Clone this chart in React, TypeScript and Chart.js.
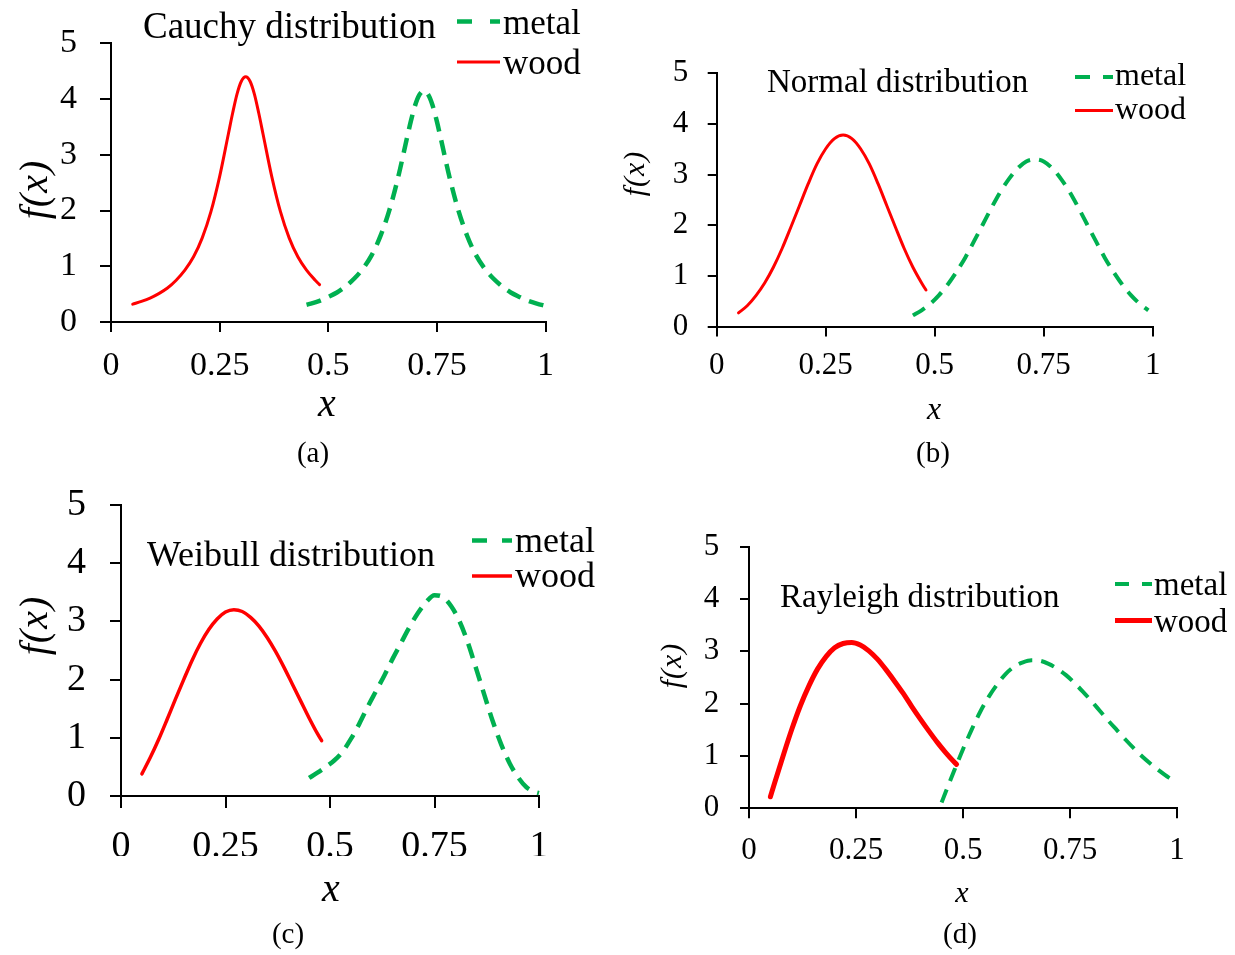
import React, { useEffect, useRef } from 'react';
import { Chart, registerables } from 'chart.js';

Chart.register(...registerables);

// ---------------- data ----------------
const seriesNames = ['metal', 'wood'];
const panelTitles = ['Cauchy distribution', 'Normal distribution', 'Weibull distribution', 'Rayleigh distribution'];
const panelCaptions = ['(a)', '(b)', '(c)', '(d)'];
const xAxisTitle = 'x';
const yAxisTitle = 'f(x)';
const xTickValues = [0, 0.25, 0.5, 0.75, 1];
const xTickLabels = ['0', '0.25', '0.5', '0.75', '1'];
const yTickValues = [0, 1, 2, 3, 4, 5];
const yTickLabels = ['0', '1', '2', '3', '4', '5'];

// (a) Cauchy
const cauchyWoodX = [0.05, 0.07, 0.09, 0.11, 0.13, 0.15, 0.17, 0.19, 0.21, 0.23, 0.25, 0.27, 0.28, 0.29, 0.30, 0.31, 0.32, 0.33, 0.34, 0.35, 0.37, 0.39, 0.41, 0.43, 0.45, 0.47, 0.48];
const cauchyWoodY = [0.32, 0.37, 0.43, 0.51, 0.61, 0.75, 0.93, 1.17, 1.51, 1.98, 2.61, 3.37, 3.75, 4.09, 4.32, 4.40, 4.32, 4.09, 3.75, 3.37, 2.61, 1.98, 1.51, 1.17, 0.93, 0.75, 0.67];
const cauchyMetalX = [0.45, 0.46, 0.48, 0.50, 0.52, 0.54, 0.56, 0.58, 0.60, 0.62, 0.64, 0.66, 0.68, 0.69, 0.70, 0.71, 0.72, 0.73, 0.74, 0.75, 0.76, 0.78, 0.80, 0.82, 0.84, 0.86, 0.88, 0.90, 0.92, 0.94, 0.96, 0.98, 1.00];
const cauchyMetalY = [0.31, 0.33, 0.38, 0.45, 0.53, 0.64, 0.78, 0.96, 1.20, 1.54, 1.99, 2.57, 3.26, 3.60, 3.89, 4.08, 4.15, 4.08, 3.89, 3.60, 3.26, 2.57, 1.99, 1.54, 1.20, 0.96, 0.78, 0.64, 0.53, 0.45, 0.38, 0.33, 0.29];

// (b) Normal
const normalWoodX = [0.05, 0.07, 0.09, 0.11, 0.13, 0.15, 0.17, 0.19, 0.21, 0.23, 0.25, 0.27, 0.29, 0.31, 0.33, 0.35, 0.37, 0.39, 0.41, 0.43, 0.45, 0.47, 0.48];
const normalWoodY = [0.27, 0.41, 0.61, 0.86, 1.17, 1.54, 1.96, 2.39, 2.82, 3.21, 3.51, 3.71, 3.78, 3.71, 3.51, 3.21, 2.82, 2.39, 1.96, 1.54, 1.17, 0.86, 0.72];
const normalMetalX = [0.45, 0.47, 0.49, 0.51, 0.53, 0.55, 0.57, 0.59, 0.61, 0.63, 0.65, 0.67, 0.69, 0.71, 0.73, 0.75, 0.77, 0.79, 0.81, 0.83, 0.85, 0.87, 0.89, 0.91, 0.93, 0.95, 0.97, 0.99];
const normalMetalY = [0.22, 0.32, 0.45, 0.62, 0.83, 1.08, 1.36, 1.68, 2.01, 2.34, 2.65, 2.91, 3.12, 3.26, 3.30, 3.26, 3.12, 2.91, 2.65, 2.34, 2.01, 1.68, 1.36, 1.08, 0.83, 0.62, 0.45, 0.32];

// (c) Weibull
const weibullWoodX = [0.05, 0.07, 0.09, 0.11, 0.13, 0.15, 0.17, 0.19, 0.21, 0.23, 0.25, 0.27, 0.29, 0.31, 0.33, 0.35, 0.37, 0.39, 0.41, 0.43, 0.45, 0.47, 0.48];
const weibullWoodY = [0.38, 0.66, 0.97, 1.31, 1.66, 2.00, 2.33, 2.62, 2.86, 3.04, 3.16, 3.20, 3.17, 3.07, 2.92, 2.72, 2.48, 2.21, 1.92, 1.63, 1.34, 1.07, 0.95];
const weibullMetalX = [0.45, 0.47, 0.49, 0.51, 0.53, 0.55, 0.57, 0.59, 0.61, 0.63, 0.65, 0.67, 0.69, 0.71, 0.73, 0.75, 0.77, 0.79, 0.81, 0.83, 0.85, 0.87, 0.89, 0.91, 0.93, 0.95, 0.97, 0.99, 1.00];
const weibullMetalY = [0.31, 0.40, 0.50, 0.61, 0.76, 0.98, 1.24, 1.53, 1.80, 2.07, 2.36, 2.63, 2.90, 3.14, 3.33, 3.45, 3.42, 3.26, 3.00, 2.63, 2.18, 1.72, 1.27, 0.88, 0.56, 0.32, 0.15, 0.07, 0.05];

// (d) Rayleigh
const rayleighWoodX = [0.05, 0.06, 0.08, 0.10, 0.12, 0.14, 0.16, 0.18, 0.20, 0.22, 0.24, 0.26, 0.28, 0.30, 0.32, 0.34, 0.36, 0.38, 0.40, 0.42, 0.44, 0.46, 0.48, 0.485];
const rayleighWoodY = [0.22, 0.49, 1.01, 1.51, 1.96, 2.34, 2.66, 2.90, 3.07, 3.15, 3.17, 3.12, 3.01, 2.85, 2.65, 2.43, 2.20, 1.95, 1.71, 1.48, 1.26, 1.06, 0.88, 0.84];
const rayleighMetalX = [0.45, 0.46, 0.48, 0.50, 0.52, 0.54, 0.56, 0.58, 0.60, 0.62, 0.64, 0.66, 0.68, 0.70, 0.72, 0.74, 0.76, 0.78, 0.80, 0.82, 0.84, 0.86, 0.88, 0.90, 0.92, 0.94, 0.96, 0.98, 1.00];
const rayleighMetalY = [0.11, 0.32, 0.73, 1.13, 1.50, 1.84, 2.13, 2.37, 2.57, 2.71, 2.79, 2.83, 2.82, 2.76, 2.67, 2.55, 2.40, 2.23, 2.05, 1.86, 1.67, 1.49, 1.31, 1.14, 0.98, 0.84, 0.71, 0.59, 0.49];

// ---------------- styling / layout ----------------
const W = 1235;
const H = 955;
const FONT = '"Liberation Serif", "Times New Roman", serif';
const GREEN = '#00b050';
const RED = '#ff0000';
const Y_AXIS_W = 60;
const X_AXIS_H = 60;

type Layout = {
  area: { left: number; top: number; right: number; bottom: number };
  tickSize: number;
  yTickLen: number;
  xTickLen: number;
  yPad: number;
  xPad: number;
  woodWidth: number;
  metalWidth: number;
  dash: number[];
  title: { x: number; y: number; size: number };
  legend: { x: number; baselines: number[]; len: number; gap: number; size: number; lineOffset: number; dash: number[] };
  yTitle: { x: number; y: number; size: number; spacing: number };
  xTitle: { x: number; y: number; size: number };
  caption: { x: number; y: number; size: number };
};

const layouts: Layout[] = [
  {
    area: { left: 111, top: 37.7, right: 545.5, bottom: 322 },
    tickSize: 34, yTickLen: 11, xTickLen: 10, yPad: 23, xPad: 14,
    woodWidth: 3, metalWidth: 4.5, dash: [15, 9],
    title: { x: 143, y: 37.5, size: 37 },
    legend: { x: 457, baselines: [33.5, 74], len: 43, gap: 3, size: 35, lineOffset: 12, dash: [15, 18] },
    yTitle: { x: 36, y: 190, size: 40, spacing: 1 },
    xTitle: { x: 327, y: 416, size: 40 },
    caption: { x: 313, y: 462, size: 29 },
  },
  {
    area: { left: 716.7, top: 73.3, right: 1152.7, bottom: 326.5 },
    tickSize: 31, yTickLen: 9, xTickLen: 10, yPad: 19.5, xPad: 11,
    woodWidth: 3, metalWidth: 4, dash: [14, 9],
    title: { x: 767, y: 92, size: 33 },
    legend: { x: 1075, baselines: [85, 118.5], len: 38, gap: 2, size: 32, lineOffset: 8, dash: [15, 13] },
    yTitle: { x: 636, y: 174, size: 30, spacing: 1 },
    xTitle: { x: 934, y: 419, size: 32 },
    caption: { x: 933, y: 462, size: 29 },
  },
  {
    area: { left: 121, top: 505, right: 539, bottom: 796 },
    tickSize: 38, yTickLen: 11, xTickLen: 12, yPad: 24, xPad: 16,
    woodWidth: 3.5, metalWidth: 4.5, dash: [15, 9],
    title: { x: 147, y: 566, size: 36 },
    legend: { x: 472, baselines: [551.5, 587], len: 40, gap: 3, size: 36, lineOffset: 11, dash: [15, 15] },
    yTitle: { x: 36, y: 626, size: 40, spacing: 1 },
    xTitle: { x: 331, y: 901, size: 40 },
    caption: { x: 288, y: 943, size: 29 },
  },
  {
    area: { left: 749, top: 546.7, right: 1177, bottom: 808.3 },
    tickSize: 31, yTickLen: 9, xTickLen: 10, yPad: 20.7, xPad: 14,
    woodWidth: 5, metalWidth: 4, dash: [14, 9],
    title: { x: 780, y: 606.5, size: 33 },
    legend: { x: 1115, baselines: [595, 631.5], len: 37, gap: 2, size: 33, lineOffset: 11, dash: [14, 13] },
    yTitle: { x: 673, y: 666, size: 30, spacing: 1 },
    xTitle: { x: 962, y: 902, size: 30 },
    caption: { x: 960, y: 943, size: 29 },
  },
];

const panels = [
  { title: panelTitles[0], caption: panelCaptions[0], metalX: cauchyMetalX, metalY: cauchyMetalY, woodX: cauchyWoodX, woodY: cauchyWoodY },
  { title: panelTitles[1], caption: panelCaptions[1], metalX: normalMetalX, metalY: normalMetalY, woodX: normalWoodX, woodY: normalWoodY },
  { title: panelTitles[2], caption: panelCaptions[2], metalX: weibullMetalX, metalY: weibullMetalY, woodX: weibullWoodX, woodY: weibullWoodY },
  { title: panelTitles[3], caption: panelCaptions[3], metalX: rayleighMetalX, metalY: rayleighMetalY, woodX: rayleighWoodX, woodY: rayleighWoodY },
];

function toPoints(xs: number[], ys: number[]) {
  return xs.map((x, i) => ({ x, y: ys[i] }));
}

function decoPlugin(panel: any, L: Layout) {
  return {
    id: 'deco',
    afterDraw(chart: any) {
      const ctx: any = chart.ctx;
      ctx.save();
      ctx.fillStyle = '#000';
      ctx.textAlign = 'left';
      ctx.textBaseline = 'alphabetic';
      // panel title
      ctx.font = `${L.title.size}px ${FONT}`;
      ctx.fillText(panel.title, L.title.x, L.title.y);
      // legend
      ctx.font = `${L.legend.size}px ${FONT}`;
      chart.data.datasets.forEach((ds: any, i: number) => {
        const by = L.legend.baselines[i];
        const ly = by - L.legend.lineOffset;
        ctx.save();
        ctx.strokeStyle = ds.borderColor;
        ctx.lineWidth = ds.borderWidth;
        ctx.lineCap = 'butt';
        ctx.setLineDash(ds.borderDash && ds.borderDash.length ? L.legend.dash : []);
        ctx.beginPath();
        ctx.moveTo(L.legend.x, ly);
        ctx.lineTo(L.legend.x + L.legend.len, ly);
        ctx.stroke();
        ctx.restore();
        ctx.fillText(ds.label, L.legend.x + L.legend.len + L.legend.gap, by);
      });
      // x axis title
      ctx.textAlign = 'center';
      ctx.font = `italic ${L.xTitle.size}px ${FONT}`;
      ctx.fillText(xAxisTitle, L.xTitle.x, L.xTitle.y);
      // y axis title (rotated)
      ctx.save();
      ctx.translate(L.yTitle.x, L.yTitle.y);
      ctx.rotate(-Math.PI / 2);
      ctx.font = `italic ${L.yTitle.size}px ${FONT}`;
      ctx.textBaseline = 'middle';
      ctx.textAlign = 'left';
      const chars = yAxisTitle.split('');
      const widths = chars.map((c: string) => ctx.measureText(c).width);
      const total = widths.reduce((a: number, b: number) => a + b, 0) + L.yTitle.spacing * (chars.length - 1);
      let cx = -total / 2;
      chars.forEach((c: string, k: number) => {
        ctx.fillText(c, cx, 0);
        cx += widths[k] + L.yTitle.spacing;
      });
      ctx.restore();
      // caption
      ctx.textAlign = 'center';
      ctx.font = `${L.caption.size}px ${FONT}`;
      ctx.fillText(panel.caption, L.caption.x, L.caption.y);
      ctx.restore();
    },
  };
}

function makeConfig(panel: any, L: Layout): any {
  return {
    type: 'line',
    data: {
      datasets: [
        {
          label: seriesNames[0],
          data: toPoints(panel.metalX, panel.metalY),
          borderColor: GREEN,
          backgroundColor: GREEN,
          borderWidth: L.metalWidth,
          borderDash: L.dash,
          borderCapStyle: 'butt',
          pointRadius: 0,
          fill: false,
          cubicInterpolationMode: 'monotone',
          clip: false,
        },
        {
          label: seriesNames[1],
          data: toPoints(panel.woodX, panel.woodY),
          borderColor: RED,
          backgroundColor: RED,
          borderWidth: L.woodWidth,
          borderDash: [],
          borderCapStyle: 'round',
          pointRadius: 0,
          fill: false,
          cubicInterpolationMode: 'monotone',
          clip: false,
        },
      ],
    },
    options: {
      responsive: false,
      animation: false,
      events: [],
      layout: {
        padding: {
          left: L.area.left - Y_AXIS_W,
          top: L.area.top,
          right: W - L.area.right,
          bottom: H - L.area.bottom - X_AXIS_H,
        },
      },
      plugins: {
        legend: { display: false },
        tooltip: { enabled: false },
        title: { display: false },
      },
      scales: {
        x: {
          type: 'linear',
          min: 0,
          max: 1,
          afterFit: (s: any) => { s.height = X_AXIS_H; },
          afterBuildTicks: (s: any) => { s.ticks = xTickValues.map((v) => ({ value: v })); },
          ticks: {
            autoSkip: false,
            maxRotation: 0,
            color: '#000',
            padding: L.xPad,
            font: { family: FONT, size: L.tickSize },
            callback: (v: number) => xTickLabels[xTickValues.indexOf(v)],
          },
          grid: { drawOnChartArea: false, drawTicks: true, tickLength: L.xTickLen, color: '#000', lineWidth: 2 },
          border: { display: true, color: '#000', width: 2 },
        },
        y: {
          type: 'linear',
          min: 0,
          max: 5,
          afterFit: (s: any) => { s.width = Y_AXIS_W; },
          afterBuildTicks: (s: any) => { s.ticks = yTickValues.map((v) => ({ value: v })); },
          ticks: {
            autoSkip: false,
            color: '#000',
            padding: L.yPad,
            font: { family: FONT, size: L.tickSize },
            callback: (v: number) => yTickLabels[yTickValues.indexOf(v)],
          },
          grid: { drawOnChartArea: false, drawTicks: true, tickLength: L.yTickLen, color: '#000', lineWidth: 2 },
          border: { display: true, color: '#000', width: 2 },
        },
      },
    },
    plugins: [decoPlugin(panel, L)],
  };
}

function Panel({ index }: { index: number }) {
  const ref = useRef<HTMLCanvasElement | null>(null);
  useEffect(() => {
    if (!ref.current) return;
    const chart = new Chart(ref.current, makeConfig(panels[index], layouts[index]));
    return () => chart.destroy();
  }, [index]);
  return (
    <canvas
      ref={ref}
      width={W}
      height={H}
      style={{ position: 'absolute', left: 0, top: 0, width: W, height: H }}
    />
  );
}

export default function App() {
  return (
    <div style={{ position: 'absolute', left: 0, top: 0, width: W, height: H, background: '#fff', overflow: 'hidden' }}>
      {panels.map((_, i) => (
        <Panel key={i} index={i} />
      ))}
    </div>
  );
}
